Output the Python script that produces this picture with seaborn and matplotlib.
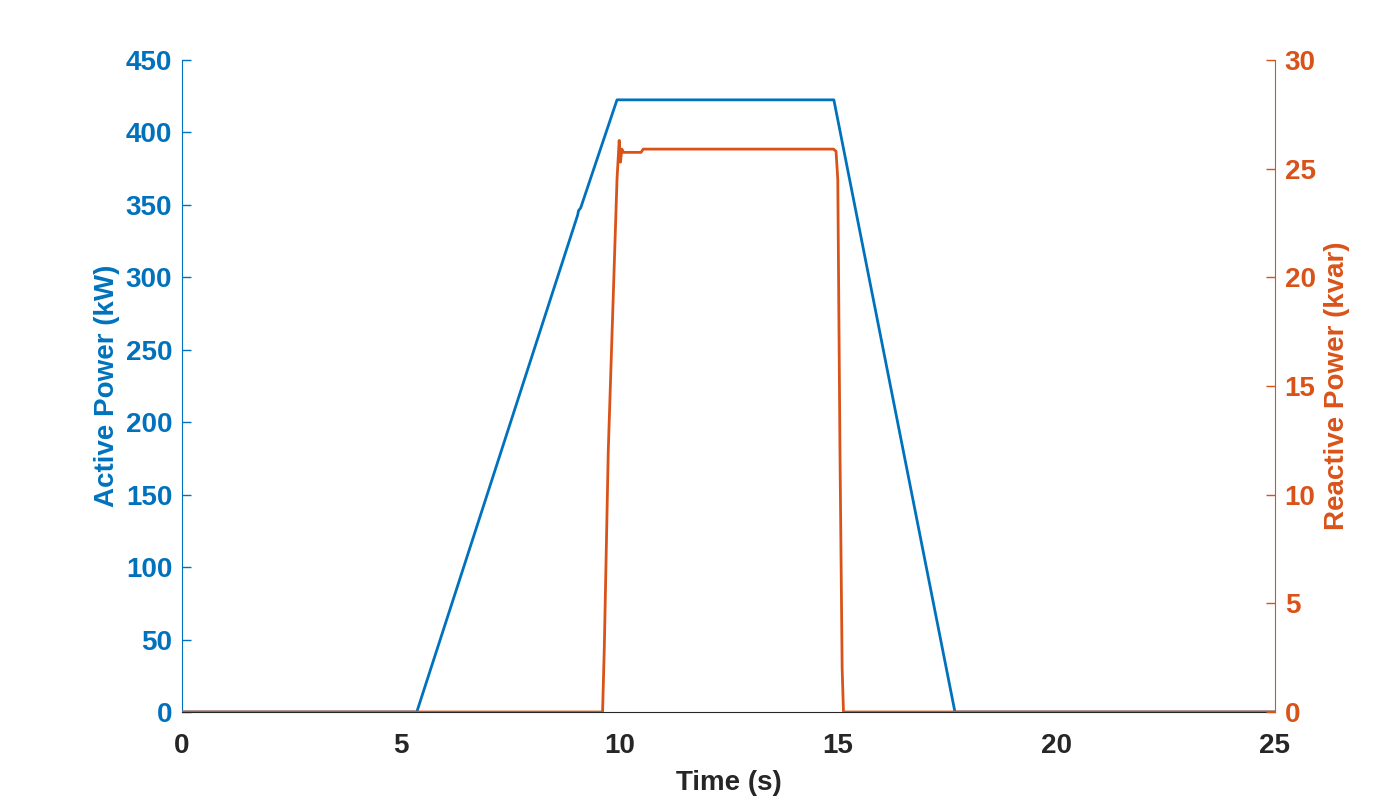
import matplotlib.pyplot as plt
import seaborn as sns
import pandas as pd

# 有功功率（kW）随时间变化
p_time = [0, 5.37, 9.05, 9.07, 9.12, 9.95, 10.0, 14.91, 17.68, 25]
p_value = [0, 0, 343, 346, 348, 422.5, 422.5, 422.5, 0, 0]

# 无功功率（kvar）随时间变化
q_time = [0, 9.62, 9.66, 9.75, 9.95, 10.0, 10.03, 10.06, 10.1, 10.5, 10.55,
          14.9, 14.96, 15.0, 15.05, 15.1, 15.13, 25]
q_value = [0, 0, 3.0, 12.0, 24.5, 26.3, 25.3, 25.9, 25.75, 25.75, 25.9,
           25.9, 25.8, 24.5, 12.0, 2.0, 0, 0]

blue = '#0072BD'
orange = '#D95319'
dark = '#262626'

sns.set_style('white')
plt.rcParams['font.family'] = ['Liberation Sans', 'DejaVu Sans']
plt.rcParams['font.weight'] = 'bold'
plt.rcParams['axes.labelweight'] = 'bold'

fig = plt.figure(figsize=(14, 8), dpi=100)
ax = fig.add_axes([0.13, 0.11, 0.7807, 0.815])
ax2 = ax.twinx()

df_p = pd.DataFrame({'t': p_time, 'p': p_value})
df_q = pd.DataFrame({'t': q_time, 'q': q_value})
sns.lineplot(data=df_p, x='t', y='p', ax=ax, color=blue, lw=2, sort=False, estimator=None)
sns.lineplot(data=df_q, x='t', y='q', ax=ax2, color=orange, lw=2, sort=False, estimator=None)

ax.set_xlim(0, 25)
ax.set_ylim(0, 450)
ax2.set_ylim(0, 30)
ax.set_xticks(range(0, 26, 5))
ax.set_yticks(range(0, 451, 50))
ax2.set_yticks(range(0, 31, 5))

fs = 20
ax.set_xlabel('Time (s)', fontsize=fs, color=dark, labelpad=8)
ax.set_ylabel('Active Power (kW)', fontsize=fs, color=blue, labelpad=4)
ax2.set_ylabel('Reactive Power (kvar)', fontsize=fs, color=orange, labelpad=6)

for a in (ax, ax2):
    a.spines['top'].set_visible(False)
    a.tick_params(direction='in', length=6.5, width=1, labelsize=fs)
ax.spines['left'].set_color(blue)
ax.spines['bottom'].set_color(dark)
ax.spines['right'].set_visible(False)
ax2.spines['right'].set_color(orange)
ax2.spines['left'].set_visible(False)
ax2.spines['bottom'].set_visible(False)
ax.tick_params(axis='y', colors=blue, pad=7)
ax.tick_params(axis='x', colors=dark, pad=15)
ax2.tick_params(axis='y', colors=orange, pad=7)
for lab in ax.get_xticklabels() + ax.get_yticklabels() + ax2.get_yticklabels():
    lab.set_fontweight('bold')

fig.savefig('out.png', dpi=100)
plt.close()
